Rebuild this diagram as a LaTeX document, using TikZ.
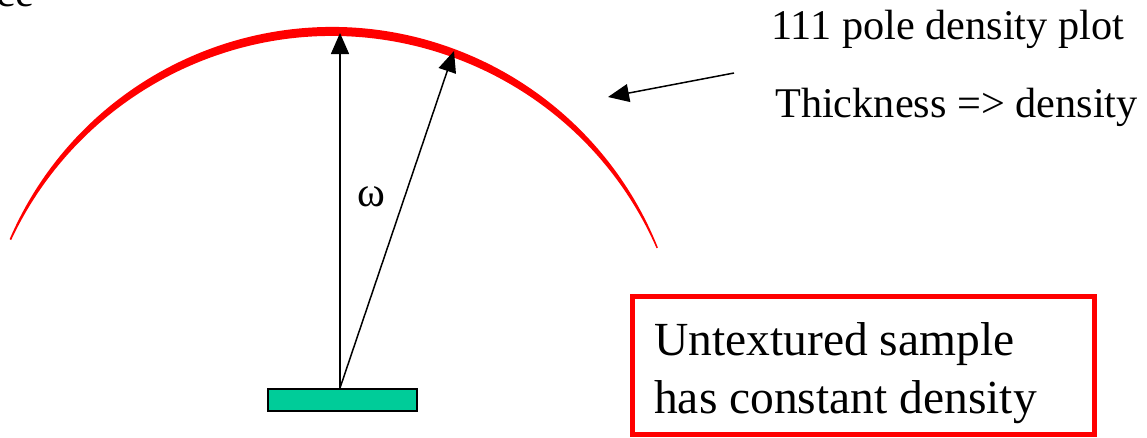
\documentclass[tikz,border=0pt]{standalone}
\usepackage{fontspec}
\setmainfont{Liberation Serif}
\usetikzlibrary{arrows.meta,calc}
\definecolor{sampleteal}{RGB}{0,204,153}
\tikzset{
  lbl/.style={inner sep=0pt, anchor=base west, font=\fontsize{42.3}{50}\selectfont},
  boxtxt/.style={inner sep=0pt, anchor=base west, font=\fontsize{47.5}{57}\selectfont},
  ray/.style={line width=1.5pt, -{Triangle[length=21pt,width=18pt]}},
  samplebox/.style={draw=black, line width=1.5pt, fill=sampleteal, minimum width=149pt, minimum height=22pt, inner sep=0pt},
  notebox/.style={draw=red, line width=5pt, minimum width=462pt, minimum height=138pt, inner sep=0pt},
}
\begin{document}
\begin{tikzpicture}[x=1pt,y=1pt]
\useasboundingbox (0,0) rectangle (1147,-437);

% clipped fragment of text at top-left
\node[inner sep=0pt, anchor=base east, font=\fontsize{42.3}{50}\selectfont] (frag) at (34,-6) {ce};

% pole density arc (thickness varies)
\coordinate (C1) at (332,-378);
\coordinate (C2) at (332,-390.3);
\fill[red] ($(C1)+(156.7:351pt)$) arc[start angle=156.7, end angle=21.8, radius=351pt]
  -- ($(C2)+(23.65:354.3pt)$) arc[start angle=23.65, end angle=154.9, radius=354.3pt] -- cycle;

% sample
\node[samplebox] (sample) at (342.5,-400) {};
\coordinate (src) at (340,-388);
\coordinate (top) at (340,-33);
\coordinate (tilt) at (454,-51);
\draw[ray] (src) -- (top);
\draw[ray] (src) -- (tilt);
\node[inner sep=0pt, font=\fontsize{42.3}{50}\selectfont] (omega) at (371,-197) {ω};

% labels
\node[lbl] (l1) at (771,-39) {111 pole density plot};
\node[lbl] (l2) at (775,-117) {Thickness => density};
\coordinate (ptail) at (734,-73);
\coordinate (ptip) at (608,-97);
\draw[ray] (ptail) -- (ptip);

% note box
\node[notebox] (note) at (863,-365) {};
\node[boxtxt] (n1) at (654,-355) {Untextured sample};
\node[boxtxt] (n2) at (654,-413) {has constant density};
\end{tikzpicture}
\end{document}
